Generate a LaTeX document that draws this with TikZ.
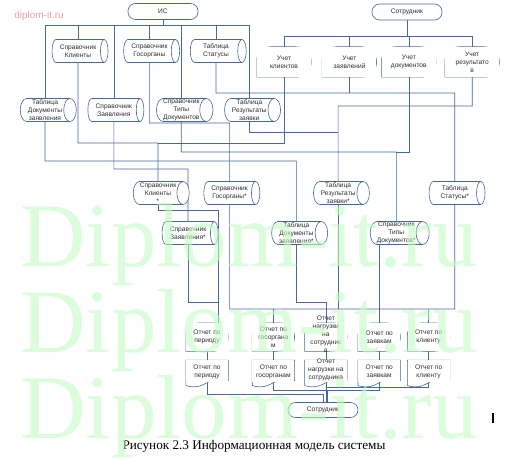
\documentclass[tikz,border=0pt]{standalone}
\usepackage{fontspec}
\setmainfont{Liberation Sans}
\newfontfamily\capfont{Liberation Serif}
\usepackage{tikz}
\usetikzlibrary{shapes.geometric, positioning}

\definecolor{edge}{RGB}{72,104,150}
\definecolor{txt}{RGB}{45,45,45}
\definecolor{wm}{RGB}{196,252,196}
\definecolor{site}{RGB}{226,160,160}

\pgfdeclarelayer{back}
\pgfdeclarelayer{front}
\pgfsetlayers{back,main,front}

% text that may stick out of its shape
\newcommand{\packtext}[1]{\smash{\begin{tabular}{@{}c@{}}#1\end{tabular}}}

\begin{document}
\begin{tikzpicture}[
        x=1pt, y=1pt,
        font=\fontsize{6.6}{8}\selectfont,
        node distance=10pt,
        link/.style={draw=edge, line width=0.6pt},
        terminal/.style={draw=edge, line width=0.6pt, fill=white, rectangle, rounded corners=7.5pt, minimum width=70pt, minimum height=16pt, text=txt},
        store/.style={draw=edge, line width=0.6pt, fill=white, cylinder, aspect=0.6, minimum height=56pt, minimum width=23pt, inner sep=0pt, align=center, text=txt},
        display/.style={rectangle, fill=white, inner sep=0pt, minimum width=54pt, minimum height=30pt, align=center, text=txt,
            append after command={\pgfextra{\draw[link] (\tikzlastnode.south west) -- ([yshift=2pt]\tikzlastnode.west) to[out=90,in=180] ([xshift=14pt]\tikzlastnode.north west) -- ([xshift=-15pt]\tikzlastnode.north east) to[out=0,in=90] (\tikzlastnode.east) to[out=-90,in=0] ([xshift=-15pt]\tikzlastnode.south east) -- cycle;}}},
        report/.style={display, minimum width=42pt, minimum height=28pt},
        paper/.style={rectangle, fill=white, inner sep=0pt, minimum width=42pt, minimum height=22pt, align=center, text=txt,
            append after command={\pgfextra{\draw[link] ([yshift=-3pt]\tikzlastnode.south west) -- (\tikzlastnode.north west) -- (\tikzlastnode.north east) -- ([yshift=2pt]\tikzlastnode.south east) .. controls ([yshift=9pt]\tikzlastnode.south) and ([yshift=-9pt]\tikzlastnode.south) .. ([yshift=-3pt]\tikzlastnode.south west);}}}
    ]
    \useasboundingbox (0,0) rectangle (528,-460);

    \node (site) [text=site, font=\fontsize{10}{12}\selectfont] at (39,-16) {diplom-it.ru};

    % sources
    \node (ist) [terminal] at (163,-11.5) {ИС};
    \node (emp_top) [terminal] at (407,-12) {Сотрудник};

    \node (ref_clients) [store] at (78,-51) {Справочник\\Клиенты};
    \node (ref_gov) [store, right=15pt of ref_clients] {Справочник\\Госорганы};
    \node (tab_status) [store, right=10pt of ref_gov] {Таблица\\Статусы};

    \node (tab_docs) [store] at (45,-110) {Таблица\\Документы\\заявления};
    \node (ref_req) [store, right=11pt of tab_docs] {Справочник\\Заявления};
    \node (ref_types) [store, right=12pt of ref_req] {Справочник\\Типы\\Документов};
    \node (tab_res) [store, right=11pt of ref_types] {Таблица\\Результаты\\заявки};

    \node (acc_clients) [display] at (284,-62) {Учет\\клиентов};
    \node (acc_req) [display, right=11pt of acc_clients] {Учет\\заявлений};
    \node (acc_docs) [display, right=5pt of acc_req] {Учет\\документов};
    \node (acc_res) [display, right=9pt of acc_docs] {Учет\\результато\\в};

    % copies
    \node (ref_clients_s) [store] at (158,-193) {Справочник\\Клиенты\\*};
    \node (ref_gov_s) [store, right=14pt of ref_clients_s] {Справочник\\Госорганы*};
    \node (tab_res_s) [store, right=53pt of ref_gov_s] {Таблица\\Результаты\\заявки*};
    \node (tab_status_s) [store, right=59pt of tab_res_s] {Таблица\\Статусы*};
    \node (ref_req_s) [store] at (188,-233) {Справочник\\Заявления*};
    \node (tab_docs_s) [store, right=53pt of ref_req_s] {Таблица\\Документы\\заявления*};
    \node (ref_types_s) [store, right=42pt of tab_docs_s] {Справочник\\Типы\\Документов*};

    % reports
    \node (rep_per) [report] at (207,-337) {Отчет по\\периоду};
    \node (rep_gos) [report, right=24pt of rep_per] {Отчет по\\госоргана\\м};
    \node (rep_load) [report, right=10pt of rep_gos] {\packtext{Отчет\\нагрузки\\на\\сотрудник\\а}};
    \node (rep_req) [report, right=11pt of rep_load] {Отчет по\\заявкам};
    \node (rep_client) [report, right=7pt of rep_req] {Отчет по\\клиенту};

    \node (doc_per) [paper, below=9pt of rep_per] {Отчет по\\периоду};
    \node (doc_gos) [paper, below=9pt of rep_gos] {Отчет по\\госорганам};
    \node (doc_load) [paper, below=9pt of rep_load] {\packtext{Отчет\\нагрузки на\\сотрудника}};
    \node (doc_req) [paper, below=9pt of rep_req] {Отчет по\\заявкам};
    \node (doc_client) [paper, below=9pt of rep_client] {Отчет по\\клиенту};

    \node (emp_bot) [terminal, minimum height=15pt] at (323,-410) {Сотрудник};

    \node (caption) [text=black, font=\capfont\fontsize{13.2}{15}\selectfont] at (254,-446) {Рисунок 2.3 Информационная модель системы};
    \draw[line width=1.2pt] (493,-413) -- (493,-423);

    \begin{pgfonlayer}{back}
        \coordinate (is_bus) at (163,-25);
        \coordinate (emp_bus) at (407,-36);
        \coordinate (ch_a) at (0,-93);
        \coordinate (ch_b) at (0,-106);
        \coordinate (ch_c) at (0,-123);
        \coordinate (ch_d) at (0,-132);
        \coordinate (ch_e) at (0,-143);
        \coordinate (ch_f) at (0,-152);
        \coordinate (ch_g) at (0,-161);
        \coordinate (ch_h) at (0,-169);
        \coordinate (ch_i) at (0,-210);
        \coordinate (ch_j) at (0,-302);
        \coordinate (ch_k) at (0,-309);
        \coordinate (per_in) at ([xshift=11pt]rep_per.north);
        \coordinate (bus_a) at ([yshift=8pt]emp_bot.north);
        \coordinate (bus_b) at ([xshift=4pt,yshift=12pt]emp_bot.north);
        \coordinate (bus_c) at ([yshift=15pt]emp_bot.north);

        \draw[link] (ist.south) -- (is_bus);
        \draw[link] (tab_docs.north |- is_bus) -- (tab_res.north |- is_bus);
        \foreach \n in {tab_docs,ref_clients,ref_req,ref_gov,ref_types,tab_status,tab_res}
            \draw[link] (\n.north |- is_bus) -- (\n.north);

        \draw[link] (emp_top.south) -- (emp_bus);
        \draw[link] (acc_clients.north |- emp_bus) -- (acc_res.north |- emp_bus);
        \foreach \n in {acc_clients,acc_req,acc_docs,acc_res}
            \draw[link] (\n.north |- emp_bus) -- (\n.north);

        \draw[link] (tab_status.south) |- (ch_a -| tab_status_s) -- (tab_status_s.north);
        \draw[link] (acc_req.south) -- (acc_req.south |- ch_a);
        \draw[link] (acc_res.south) |- (ch_b -| tab_res_s) -- (tab_res_s.north);
        \draw[link] (tab_res.south) |- (ch_d -| tab_res_s);
        \draw[link] (ref_gov.south) |- (ch_c -| ref_gov_s) -- (ref_gov_s.north);
        \draw[link] (ref_clients.south) |- (ch_e -| ref_clients_s) -- (ref_clients_s.north);
        \draw[link] (acc_clients.south) |- (ch_e -| ref_clients_s);
        \draw[link] (ref_types.south) |- (ch_f -| ref_types_s) -- (ref_types_s.north);
        \draw[link] (acc_docs.south) |- (ch_f -| ref_types_s);
        \draw[link] (tab_docs.south) |- (ch_g -| tab_docs_s) -- (tab_docs_s.north);
        \draw[link] (ref_req.south) |- (ch_h -| ref_req_s) -- (ref_req_s.north);

        \draw[link] (ref_clients_s.south) |- (ch_i -| per_in) -- (per_in);
        \draw[link] (ref_req_s.south) |- (ch_j -| per_in);
        \draw[link] (ref_gov_s.south) |- (ch_k -| tab_status_s) -- (tab_status_s.south);
        \draw[link] (tab_res_s.south) -- (tab_res_s.south |- ch_k);
        \draw[link] (rep_gos.north |- ch_k) -- (rep_gos.north);
        \draw[link] (rep_client.north |- ch_k) -- (rep_client.north);
        \draw[link] (ref_types_s.south -| rep_req.north) -- (rep_req.north);
        \draw[link] (tab_docs_s.south) |- (ch_j -| rep_load) -- (rep_load.north);

        \foreach \r in {per,gos,load,req,client}
            \draw[link] (rep_\r.south) -- (doc_\r.north);

        \draw[link] (doc_per.south) |- (bus_a) -- (emp_bot.north);
        \draw[link] (doc_gos.south) |- (doc_req.south |- bus_b) -- (doc_req.south);
        \draw[link] (bus_b) -- (bus_b |- emp_bot.north);
        \draw[link] (doc_load.south) -- (doc_load.south |- emp_bot.north);
        \draw[link] (doc_client.south) |- (doc_load.south |- bus_c);
    \end{pgfonlayer}

    \begin{pgfonlayer}{front}
        \foreach \y in {266,352,438}
            \node (mark_\y) [anchor=base west, inner sep=0pt, text=wm, text opacity=0.6, font=\capfont\fontsize{91}{91}\selectfont] at (20,-\y) {Diplom-it.ru};
    \end{pgfonlayer}
\end{tikzpicture}
\end{document}
